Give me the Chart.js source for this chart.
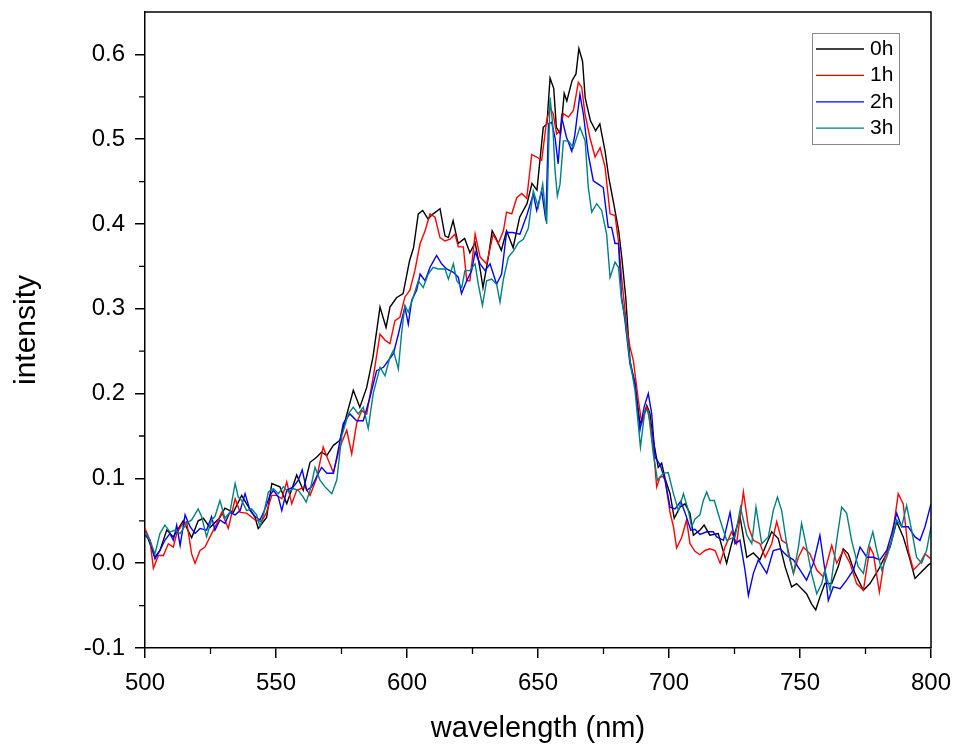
<!DOCTYPE html>
<html><head><meta charset="utf-8">
<script src="https://cdn.jsdelivr.net/npm/chart.js@4.4.0/dist/chart.umd.min.js"></script>
<style>html,body{margin:0;padding:0;background:#fff;}#wrap{width:955px;height:746px;}</style>
</head><body><div id="wrap"><canvas id="c" width="955" height="746"></canvas></div>
<script>
const seriesNames = ['0h','1h','2h','3h'];
const seriesColors = ['#000000','#ff0000','#0000ff','#008080'];

const wl0h = [500,503.8,505.7,508.3,510.8,514.6,517.8,520.3,522.3,524.8,528.6,530.5,533.7,536.9,538.8,542,543.2,546.4,548.4,551.5,554.1,557.9,560.4,563,565.5,567.4,569.4,571.9,574.4,575.7,579.5,582,584.6,587,589.7,592,593.5,596,598.5,601,602.5,604.3,606,608,610,612.6,614.5,615.8,617.6,619.5,622,624,626,628,629,631,632.5,634,636,638,640.5,643,645.8,647.7,649.6,652,653.4,654.6,656,657,658.6,660,661,663,664.5,665.6,667,668,670,672,673.6,675.6,677,678.9,680.8,682,683.5,685.1,687,688.9,690.2,691.5,692.7,694,695.9,697.2,698.5,700.4,702,704.2,706.1,708,709.3,711.8,713.4,715.6,718.8,722,723.9,727.1,729.7,732.2,734.7,739.2,741.7,744.3,746.8,748.7,752.5,754.4,756,757.6,759.5,762.1,764.6,766.5,768.4,771,774.2,776.7,779.9,781.8,784.4,786.9,789.4,792,793.9,796.4,799,800];
const int0h = [0.039,0.007,0.015,0.039,0.031,0.050,0.030,0.050,0.053,0.042,0.054,0.065,0.060,0.080,0.070,0.054,0.041,0.054,0.094,0.090,0.070,0.104,0.086,0.119,0.125,0.131,0.127,0.139,0.145,0.160,0.204,0.184,0.207,0.243,0.302,0.278,0.302,0.313,0.318,0.357,0.372,0.412,0.416,0.406,0.412,0.418,0.386,0.384,0.404,0.377,0.383,0.366,0.378,0.345,0.325,0.360,0.392,0.383,0.369,0.392,0.372,0.408,0.424,0.448,0.440,0.514,0.518,0.572,0.560,0.514,0.506,0.554,0.545,0.569,0.577,0.607,0.592,0.549,0.522,0.510,0.518,0.486,0.455,0.424,0.392,0.360,0.313,0.239,0.212,0.165,0.172,0.186,0.177,0.145,0.113,0.118,0.100,0.082,0.053,0.066,0.070,0.059,0.033,0.039,0.045,0.033,0.035,0.000,0.023,0.055,0.007,0.012,0.004,0.037,0.029,-0.004,-0.028,-0.024,-0.036,-0.048,-0.055,-0.040,-0.024,-0.024,-0.004,0.017,0.011,-0.012,-0.032,-0.024,-0.008,0.004,0.019,0.049,0.031,0.004,-0.018,-0.010,-0.002,0.000];

const wl1h = [500,501.9,503.2,505.1,507,508.9,510.8,512.1,514,515.9,517.8,519.1,521,522.9,524.8,527.4,529.3,531.8,534.4,536.3,538.8,542,544.5,546.4,548.4,550.3,552.2,554.1,556,557.9,561.1,563,565.5,568,570,571.9,574.4,577,578.9,580.8,582.7,584.6,587.1,589.7,591.6,593.5,595.4,597.3,599.2,601.1,603,605,606.9,608.8,610.7,612.6,614.5,616.4,618.3,619.6,621.5,622.8,624,626,627.9,630.4,632.9,634.8,636.8,638,640,641.9,643.8,645.7,647.6,649.5,651.4,653.3,654.6,655.8,657.1,658.4,659.7,661.6,663.5,665.4,666.7,667.9,669.8,671.8,673.7,675.6,677.5,679.4,680.7,681.9,683.8,685.1,686.4,688.3,689.6,691.5,692.7,694,695.3,696.6,697.8,698.5,700.4,701.7,702.9,704.8,706.7,708,709.9,711.8,713.7,715.6,717.6,719.5,721.4,723.9,725.8,728.4,730.3,732.2,734.7,736.7,739.2,741.1,743,744.9,747.5,749.4,751.3,753.8,756.4,758.9,762.1,764,766.5,769.1,771.6,774.2,776.7,778,780.3,782.4,785,787.5,789.4,791.3,793.3,795.8,797.7,800];
const int1h = [0.041,0.027,-0.006,0.009,0.009,0.023,0.019,0.035,0.045,0.049,0.011,0.000,0.015,0.019,0.031,0.047,0.060,0.041,0.076,0.060,0.059,0.051,0.049,0.060,0.080,0.080,0.076,0.096,0.070,0.086,0.090,0.080,0.100,0.137,0.121,0.107,0.137,0.157,0.129,0.165,0.180,0.176,0.219,0.270,0.263,0.259,0.286,0.290,0.314,0.322,0.345,0.377,0.392,0.412,0.408,0.384,0.380,0.382,0.388,0.373,0.373,0.333,0.333,0.388,0.361,0.353,0.388,0.377,0.392,0.414,0.412,0.431,0.436,0.430,0.482,0.479,0.475,0.522,0.537,0.530,0.506,0.510,0.530,0.526,0.534,0.567,0.561,0.530,0.502,0.479,0.490,0.467,0.412,0.410,0.380,0.337,0.280,0.255,0.239,0.192,0.165,0.184,0.168,0.137,0.090,0.102,0.102,0.098,0.060,0.043,0.018,0.030,0.051,0.023,0.014,0.010,0.015,0.017,0.015,0.000,0.019,0.037,0.023,0.084,0.043,0.027,0.023,0.007,0.023,0.049,0.027,0.023,-0.012,0.007,0.019,0.011,-0.008,-0.016,0.021,0.000,0.015,0.000,-0.024,-0.032,0.019,0.011,-0.034,0.007,0.027,0.082,0.070,0.015,-0.008,0.000,0.011,0.005];

const wl2h = [500,501.9,503.8,505.7,507.6,509.5,510.8,512.1,513.4,515.3,517.2,519.1,521,523.5,525.4,526.7,528.6,530.5,532.4,534.4,536.3,538.2,540.1,542,543.9,545.8,547.7,549,550.9,552.2,554.1,556.6,558.5,560,561.7,563.6,565.5,567.4,569.4,571.9,573.2,575.7,578.2,580.8,583.3,585.9,588.4,591,592.9,594.8,596.7,597.9,599.2,600.5,601.8,603.7,605,606.9,608.8,611.3,613.2,615.1,617.7,619.6,620.8,622.8,624.7,626,627.9,629.8,631.7,634.2,636.1,638,640.3,643.1,645.7,648.2,649.5,651.4,653,654,655.2,656.5,657.7,659,660.9,662.9,664.1,666,667.3,669.2,671.1,673,674.9,676.8,678.1,679.4,680.7,681.9,683.2,685.1,687,688.9,690.5,692.1,693.4,694.7,696.6,698.5,700.4,702.3,704.5,706.4,708.3,709.9,711.8,714.4,716.9,718.2,720.8,723.3,725.2,727.1,729,730.3,732.2,734.1,737.3,739.8,742.4,744.9,747.5,750,752.5,755.1,757.6,759.5,760.8,762.7,765.3,767.8,770.4,772.9,775.5,778,780.5,783.1,785,786.9,788.8,791.3,793.9,795.8,797.7,800];
const int2h = [0.033,0.027,0.005,0.015,0.027,0.035,0.027,0.045,0.021,0.057,0.043,0.035,0.041,0.039,0.055,0.039,0.051,0.047,0.060,0.057,0.062,0.082,0.062,0.055,0.051,0.064,0.080,0.086,0.078,0.062,0.086,0.090,0.098,0.110,0.086,0.090,0.102,0.113,0.106,0.106,0.125,0.165,0.176,0.168,0.168,0.196,0.227,0.231,0.239,0.247,0.270,0.286,0.302,0.282,0.310,0.322,0.341,0.333,0.349,0.363,0.353,0.347,0.343,0.337,0.318,0.333,0.345,0.367,0.353,0.345,0.353,0.329,0.341,0.390,0.390,0.388,0.410,0.435,0.416,0.439,0.404,0.518,0.520,0.502,0.471,0.526,0.502,0.486,0.506,0.553,0.530,0.482,0.451,0.447,0.443,0.396,0.396,0.377,0.377,0.314,0.286,0.235,0.212,0.157,0.184,0.200,0.176,0.125,0.116,0.098,0.066,0.064,0.073,0.057,0.039,0.040,0.034,0.037,0.037,0.031,0.027,0.060,0.023,0.027,-0.008,-0.038,-0.012,0.004,-0.012,0.015,0.017,0.009,0.004,-0.008,-0.020,0.000,0.033,-0.008,-0.044,-0.028,-0.030,-0.020,-0.008,0.019,0.007,0.007,0.004,0.015,0.035,0.059,0.043,0.043,0.031,0.027,0.043,0.070];

const wl3h = [500,501.9,503.8,505.7,507.6,509.5,511.5,513.4,515.9,517.8,520.3,521.6,523.5,525.4,526.7,528.6,530.5,532.4,534.4,535.6,536.9,538.8,540.7,542.6,543.9,545.2,547.1,549,550.9,552.8,554.7,556.6,558.5,560.4,561.5,563,564.9,566.8,568.7,571.3,573.2,575.1,577.6,579.5,581.4,583.3,585.2,587.1,589.7,591.6,593.5,594.8,596.7,597.9,599.2,600.5,602.4,604.3,606.2,608.1,610,611.9,614.5,615.8,617.7,619,620.9,622.1,624,626,627.2,628.8,630.4,632.3,634.2,635.5,636.8,638.7,640.6,642.5,644.4,646.3,648.2,650.1,651.8,653.3,654.6,655.6,656.5,657.4,658.4,659.7,661.6,663.5,666,668,669.2,670.5,672.4,674.3,676.2,677.5,679.4,680.7,681.9,683.2,685.1,687,689.1,690.8,692.1,694,695.6,697.8,699.7,701.7,703.6,705.5,707.4,708.6,709.9,711.8,713.1,714.4,715.6,717.3,719.5,722,725.2,727.3,729.7,731.6,733.2,735.4,737.9,739.8,741.4,743,745.5,747.5,749.4,750.6,752.5,754.4,756.4,758.3,759.5,761.5,764,765.9,767.8,769.7,772.2,774.2,776.1,777.8,779.3,781.2,783.1,785,786.9,788.8,790.7,792.6,794.5,796.4,798.3,800];
const int3h = [0.037,0.027,0.011,0.035,0.045,0.037,0.039,0.035,0.047,0.051,0.064,0.055,0.031,0.051,0.055,0.074,0.053,0.060,0.094,0.078,0.074,0.062,0.064,0.057,0.043,0.057,0.084,0.088,0.082,0.090,0.084,0.088,0.086,0.078,0.072,0.086,0.113,0.098,0.090,0.082,0.098,0.150,0.176,0.184,0.176,0.184,0.159,0.200,0.231,0.221,0.243,0.251,0.229,0.270,0.304,0.296,0.314,0.333,0.325,0.341,0.349,0.347,0.347,0.335,0.353,0.333,0.325,0.345,0.345,0.353,0.329,0.304,0.333,0.335,0.329,0.308,0.335,0.361,0.368,0.378,0.382,0.395,0.439,0.420,0.447,0.400,0.549,0.518,0.463,0.433,0.447,0.498,0.498,0.490,0.514,0.498,0.443,0.414,0.424,0.416,0.388,0.337,0.355,0.349,0.310,0.290,0.239,0.204,0.137,0.180,0.180,0.129,0.098,0.106,0.107,0.082,0.062,0.082,0.062,0.043,0.052,0.057,0.074,0.084,0.074,0.074,0.051,0.027,0.031,0.066,0.033,0.023,0.066,0.023,0.031,0.062,0.078,0.062,0.011,-0.012,0.019,0.047,0.019,-0.012,-0.036,-0.024,-0.008,-0.032,0.027,0.066,0.059,0.027,-0.004,-0.012,0.019,0.037,0.015,-0.008,0.007,0.027,0.051,0.043,0.068,0.039,0.007,0.000,0.015,0.043];

const xTicks = [500,550,600,650,700,750,800];
const xMinor = [525,575,625,675,725,775];
const yTicks = [-0.1,0.0,0.1,0.2,0.3,0.4,0.5,0.6];
const yMinor = [-0.05,0.05,0.15,0.25,0.35,0.45,0.55];
const xTitle = 'wavelength (nm)';
const yTitle = 'intensity';

const allWl = [wl0h, wl1h, wl2h, wl3h];
const allInt = [int0h, int1h, int2h, int3h];

const FONT = '"Liberation Sans", Arial, sans-serif';

const datasets = seriesNames.map((name, k) => ({
  label: name,
  data: allWl[k].map((x, i) => ({x: x, y: allInt[k][i]})),
  borderColor: seriesColors[k],
  backgroundColor: seriesColors[k],
  borderWidth: 1.4,
  pointRadius: 0,
  tension: 0,
  fill: false,
  order: seriesNames.length - 1 - k
}));

const framePlugin = {
  id: 'frame',
  afterDraw(chart) {
    const ctx = chart.ctx, a = chart.chartArea;
    const xs = chart.scales.x, ys = chart.scales.y;
    ctx.save();
    ctx.strokeStyle = '#000';
    ctx.lineWidth = 1.5;
    ctx.beginPath();
    ctx.moveTo(a.left, a.top); ctx.lineTo(a.right, a.top); ctx.lineTo(a.right, a.bottom);
    ctx.stroke();
    ctx.lineWidth = 1.3;
    ctx.beginPath();
    xMinor.forEach(v => { const p = xs.getPixelForValue(v); ctx.moveTo(p, a.bottom); ctx.lineTo(p, a.bottom + 6); });
    yMinor.forEach(v => { const p = ys.getPixelForValue(v); ctx.moveTo(a.left, p); ctx.lineTo(a.left - 6, p); });
    ctx.stroke();
    // legend
    const bx = 812, by = 33, bw = 87, bh = 111;
    ctx.fillStyle = '#fff';
    ctx.fillRect(bx, by, bw, bh);
    ctx.strokeStyle = '#8a8a8a';
    ctx.lineWidth = 1;
    ctx.strokeRect(bx + 0.5, by + 0.5, bw, bh);
    ctx.font = '21px ' + FONT;
    ctx.textBaseline = 'middle';
    ctx.textAlign = 'left';
    chart.data.datasets.forEach((ds, i) => {
      const yy = by + 16 + i * 26.4;
      ctx.strokeStyle = ds.borderColor;
      ctx.lineWidth = 1.3;
      ctx.beginPath(); ctx.moveTo(bx + 4, yy); ctx.lineTo(bx + 52, yy); ctx.stroke();
      ctx.fillStyle = '#000';
      ctx.fillText(ds.label, bx + 58, yy);
    });
    ctx.restore();
  }
};

new Chart(document.getElementById('c'), {
  type: 'line',
  data: { datasets },
  options: {
    responsive: false,
    animation: false,
    devicePixelRatio: 1,
    layout: { padding: { left: 0, right: 24, top: 12, bottom: 0 } },
    plugins: { legend: { display: false }, tooltip: { enabled: false } },
    scales: {
      x: {
        type: 'linear', min: 500, max: 800,
        afterBuildTicks: s => { s.ticks = xTicks.map(v => ({value: v})); },
        afterFit: s => { s.height = 98; s.paddingLeft = 0; s.paddingRight = 0; },
        ticks: { autoSkip: false, maxRotation: 0, color: '#000', padding: 11,
                 font: { family: FONT, size: 24 }, callback: v => String(v) },
        grid: { display: true, drawOnChartArea: false, drawTicks: true, tickLength: 10, color: '#000', lineWidth: 1.5 },
        border: { display: true, color: '#000', width: 1.5 },
        title: { display: true, text: xTitle, color: '#000', font: { family: FONT, size: 29 }, padding: { top: 0, bottom: 0 } }
      },
      y: {
        type: 'linear', min: -0.1, max: 0.65,
        afterBuildTicks: s => { s.ticks = yTicks.map(v => ({value: v})); },
        afterFit: s => { s.width = 145; s.paddingTop = 0; s.paddingBottom = 0; },
        ticks: { autoSkip: false, color: '#000', padding: 10,
                 font: { family: FONT, size: 24 }, callback: v => Number(v).toFixed(1) },
        grid: { display: true, drawOnChartArea: false, drawTicks: true, tickLength: 10, color: '#000', lineWidth: 1.5 },
        border: { display: true, color: '#000', width: 1.5 },
        title: { display: true, text: yTitle, color: '#000', font: { family: FONT, size: 30 }, padding: { top: 9, bottom: 0 } }
      }
    }
  },
  plugins: [framePlugin]
});
</script>
</body></html>
